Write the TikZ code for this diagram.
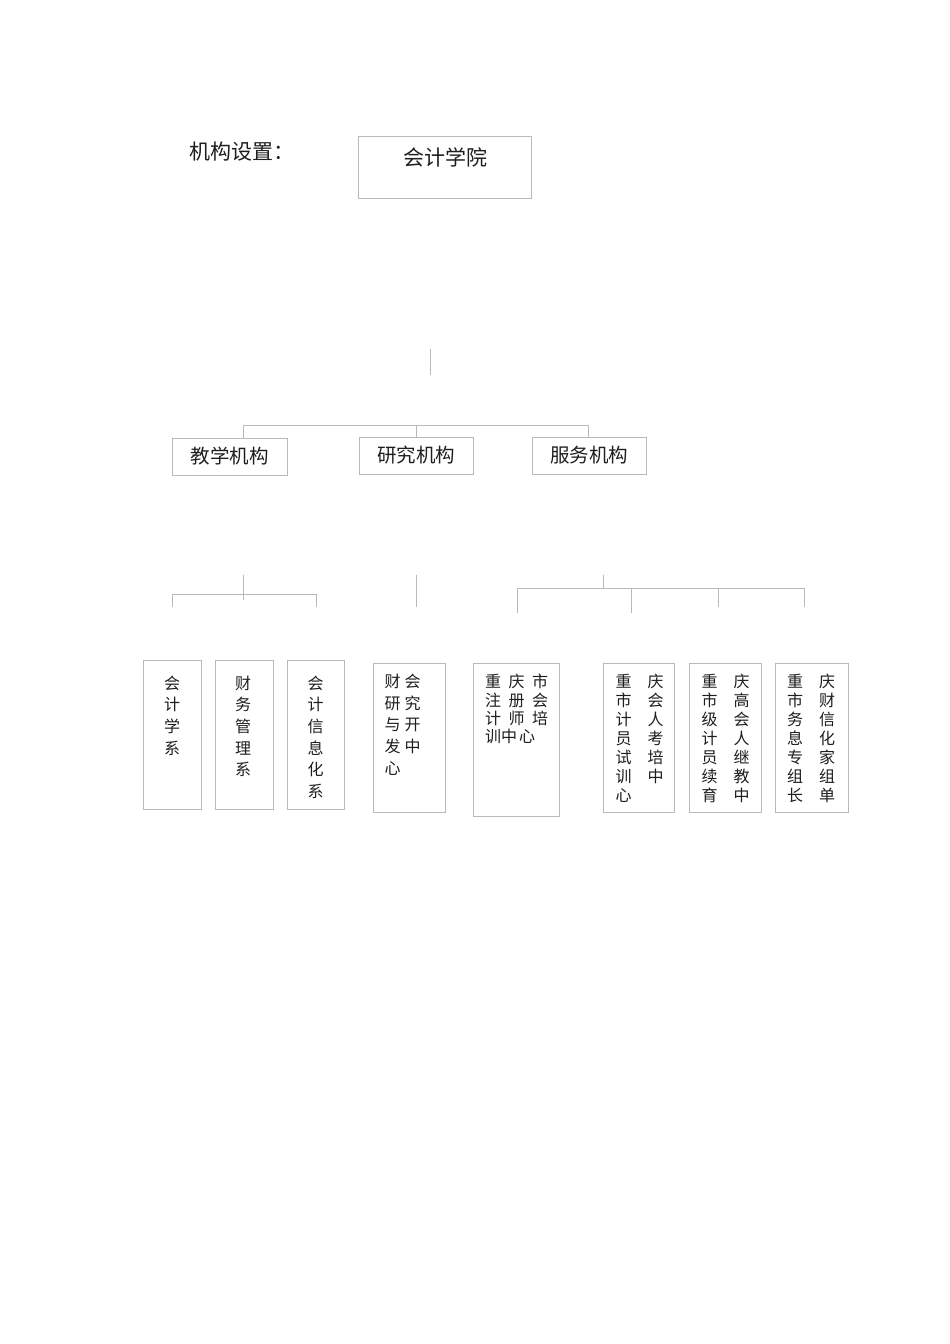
\documentclass[tikz,border=0pt]{standalone}
\usepackage{fontspec}
\setmainfont{Noto Sans CJK SC}
\usepackage{tikz}
\usetikzlibrary{calc}
\definecolor{linegray}{RGB}{185,185,185}
\definecolor{txtgray}{RGB}{30,30,30}
\tikzset{
	box/.style={draw=linegray,line width=0.9pt,inner sep=0pt,text=txtgray},
	conn/.style={draw=linegray,line width=0.9pt},
	col/.style={inner sep=0pt,anchor=north,align=center,text=txtgray,font=\fontsize{16}{21.7}\selectfont},
	pair/.style={inner sep=0pt,anchor=north west,align=left,text=txtgray,font=\fontsize{16}{18.9}\selectfont},
}
\newcommand{\gap}{\hspace{16pt}}
\begin{document}
\begin{tikzpicture}[x=1pt,y=-1pt]
		\useasboundingbox[fill=white] (0,0) rectangle (950,1344);

		\node[anchor=west,inner sep=0pt,text=txtgray,font=\fontsize{21}{21}\selectfont] (title) at (189,152) {机构设置：};
		\node[box,minimum width=173,minimum height=62] (root) at (444.5,167) {};
		\node[inner sep=0pt,text=txtgray,font=\fontsize{21}{21}\selectfont] (roottxt) at (445,157) {会计学院};

		\node[box,minimum width=115,minimum height=37,font=\fontsize{19.5}{19.5}\selectfont] (jx) at (229.5,456.5) {教学机构};
		\node[box,minimum width=114,minimum height=37,font=\fontsize{19.5}{19.5}\selectfont] (yj) at (416,455.5) {研究机构};
		\node[box,minimum width=114,minimum height=37,font=\fontsize{19.5}{19.5}\selectfont] (fw) at (589,455.5) {服务机构};

		\coordinate (s0a) at (430,349);
		\coordinate (s0b) at (430,375);
		\draw[conn] (s0a) -- (s0b);
		\coordinate (b1) at (243,425);
		\coordinate (b2) at (416,425);
		\coordinate (b3) at (588,425);
		\draw[conn] (b1) -- (b3);
		\draw[conn] (b1) -- (b1 |- jx.north);
		\draw[conn] (b2) -- (yj.north);
		\draw[conn] (b3) -- (b3 |- fw.north);

		\node[box,minimum width=58,minimum height=149] (kjx) at (172,734.5) {};
		\node[box,minimum width=58,minimum height=149] (cwgl) at (244,734.5) {};
		\node[box,minimum width=57,minimum height=149] (kjxx) at (315.5,734.5) {};
		\node[box,minimum width=72,minimum height=149] (chyj) at (409,737.5) {};
		\node[box,minimum width=86,minimum height=153] (zcpx) at (516,739.5) {};
		\node[box,minimum width=71,minimum height=149] (kjks) at (638.5,737.5) {};
		\node[box,minimum width=72,minimum height=149] (gjjy) at (725,737.5) {};
		\node[box,minimum width=73,minimum height=149] (cwxx) at (811.5,737.5) {};

		\node[col] (kjxt) at (172,675.5) {会\\计\\学\\系};
		\node[col] (cwglt) at (243,675.5) {财\\务\\管\\理\\系};
		\node[col] (kjxxt) at (315.5,675.5) {会\\计\\信\\息\\化\\系};
		\node[pair,font=\fontsize{16}{21.6}\selectfont] (chyjt) at (384.5,674) {财\hspace{4pt}会\\研\hspace{4pt}究\\与\hspace{4pt}开\\发\hspace{4pt}中\\心};
		\node[pair,font=\fontsize{16}{18.3}\selectfont] (zcpxt) at (485,674) {重\hspace{7.5pt}庆\hspace{7.5pt}市\\注\hspace{7.5pt}册\hspace{7.5pt}会\\计\hspace{7.5pt}师\hspace{7.5pt}培\\训\hspace{0pt}中\hspace{2pt}心};
		\node[pair] (kjkst) at (615.3,674) {重\gap 庆\\市\gap 会\\计\gap 人\\员\gap 考\\试\gap 培\\训\gap 中\\心};
		\node[pair] (gjjyt) at (701.3,674) {重\gap 庆\\市\gap 高\\级\gap 会\\计\gap 人\\员\gap 继\\续\gap 教\\育\gap 中};
		\node[pair] (cwxxt) at (787,674) {重\gap 庆\\市\gap 财\\务\gap 信\\息\gap 化\\专\gap 家\\组\gap 组\\长\gap 单};

		\coordinate (t1) at (243,575);
		\coordinate (t1b) at (243,600);
		\coordinate (tl) at (172,594);
		\coordinate (tr) at (316,594);
		\draw[conn] (t1) -- (t1b);
		\draw[conn] (tl) -- (tr);
		\draw[conn] (tl) -- (172,607);
		\draw[conn] (tr) -- (316,607);

		\coordinate (r1) at (416,575);
		\coordinate (r1b) at (416,607);
		\draw[conn] (r1) -- (r1b);

		\coordinate (f1) at (603,575);
		\coordinate (fl) at (517,588);
		\coordinate (fr) at (804,588);
		\draw[conn] (f1) -- (f1 |- fl);
		\draw[conn] (fl) -- (fr);
		\draw[conn] (fl) -- (517,613);
		\draw[conn] (631,588) -- (631,613);
		\draw[conn] (718,588) -- (718,607);
		\draw[conn] (fr) -- (804,607);
	\end{tikzpicture}
\end{document}
